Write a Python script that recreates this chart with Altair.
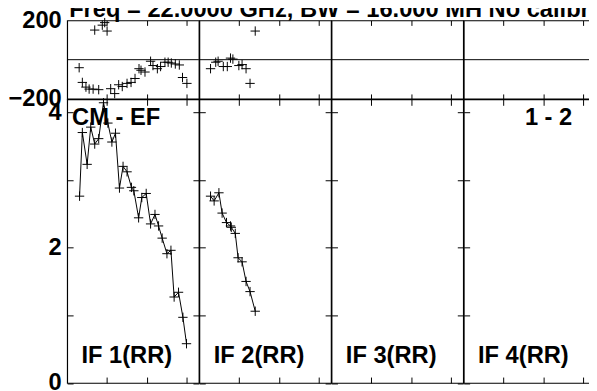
import altair as alt
import pandas as pd

FONT = "Liberation Sans"
FS = 24

title_text = "Freq = 22.0000 GHz, BW = 16.000 MH  No calibration"
baseline_label = "CM - EF"
pair_label = "1 - 2"
if_labels = ["IF 1(RR)", "IF 2(RR)", "IF 3(RR)", "IF 4(RR)"]

x_ticks = [1, 2, 3]
amp_ticks = [0, 1, 2, 3, 4]
amp_labels_shown = [0, 2, 4]
phase_ticks = [-200, 200]

# IF 1 amplitude
if1_amp_t = [0.31, 0.38, 0.50, 0.59, 0.69, 0.79, 0.91, 1.02, 1.12, 1.21, 1.31, 1.40, 1.50, 1.61,
             1.67, 1.79, 1.87, 1.98, 2.09, 2.20, 2.29, 2.38, 2.50, 2.60, 2.68, 2.79, 2.90, 2.99]
if1_amp = [2.76, 3.70, 3.23, 3.78, 3.53, 3.61, 4.14, 3.84, 3.56, 3.69, 2.88, 3.20, 3.12, 2.89,
           2.84, 2.44, 2.74, 2.80, 2.35, 2.49, 2.32, 2.14, 1.91, 1.96, 1.27, 1.34, 0.97, 0.58]
# IF 1 phase
if1_ph_t = [0.30, 0.38, 0.47, 0.55, 0.65, 0.69, 0.79, 0.88, 0.94, 1.00, 1.09, 1.19, 1.29, 1.38,
            1.50, 1.60, 1.70, 1.80, 1.85, 1.95, 2.09, 2.15, 2.26, 2.34, 2.45, 2.53, 2.61, 2.71,
            2.81, 2.89, 3.00]
if1_ph = [-41, -116, -140, -150, -150, 151, -153, 176, 189, 146, -148, -173, -128, -137,
          -121, -116, -96, -46, -54, -63, -8, -30, -46, -35, -13, -13, -17, -22,
          -27, -91, -121]
# IF 2 amplitude
if2_amp_t = [0.28, 0.37, 0.49, 0.57, 0.68, 0.78, 0.80, 0.90, 0.97, 1.07, 1.17, 1.27, 1.40]
if2_amp = [2.76, 2.69, 2.81, 2.51, 2.37, 2.32, 2.30, 2.21, 1.85, 1.79, 1.50, 1.35, 1.06]
# IF 2 phase
if2_ph_t = [0.28, 0.41, 0.47, 0.60, 0.70, 0.78, 0.84, 0.99, 1.07, 1.17, 1.27, 1.40]
if2_ph = [-46, -13, -8, -35, -35, 8, 3, -30, -25, -46, -121, 146]

X_DOM = [0, 3.3]
AMP_DOM = [0, 4.19]
PH_DOM = [-200, 200]
W = 133.5
H_PH = 79.5
H_AMP = 287.5
CROSS = "M-1,0L1,0M0,-1L0,1"
SVG_W = 589
SVG_H = 383
PAD_L = 60
PAD_T = 10


def df_of(t, v):
    return pd.DataFrame({"t": pd.Series(t, dtype=float), "v": pd.Series(v, dtype=float)})


amp_data = [df_of(if1_amp_t, if1_amp), df_of(if2_amp_t, if2_amp), df_of([], []), df_of([], [])]
ph_data = [df_of(if1_ph_t, if1_ph), df_of(if2_ph_t, if2_ph), df_of([], []), df_of([], [])]


def xaxis(orient, size):
    return alt.Axis(orient=orient, values=x_ticks, tickSize=size, offset=-size, domain=False,
                    labels=False, title=None, grid=False, tickColor="black", tickWidth=1)


def label_axis(orient, values, col, ticks, expr=None):
    kw = dict(orient=orient, values=values, domain=False, grid=False, title=None,
              labels=(col == 0 and orient == "left"), labelFont=FONT, labelFontSize=FS,
              labelFontWeight="bold", labelColor="black", labelPadding=6, labelFlush=False,
              labelOverlap=False, tickColor="black", tickWidth=1)
    if ticks:
        kw.update(ticks=True, tickSize=6, offset=-6)
    else:
        kw.update(ticks=False, offset=0)
    if expr:
        kw["labelExpr"] = expr
    return alt.Axis(**kw)


def text_layer(s, x, y, align="left", baseline="middle"):
    return alt.Chart(pd.DataFrame({"s": [s]})).mark_text(
        font=FONT, fontSize=FS, fontWeight="bold", align=align, baseline=baseline, color="black"
    ).encode(text="s:N", x=alt.value(x), y=alt.value(y))


def panel(kind, col):
    amp = kind == "amp"
    ydom = AMP_DOM if amp else PH_DOM
    h = H_AMP if amp else H_PH
    xs = alt.Scale(domain=X_DOM, nice=False, zero=False)
    ys = alt.Scale(domain=ydom, nice=False, zero=False)
    df = amp_data[col] if amp else ph_data[col]
    if amp:
        expr = "indexof(" + str(amp_labels_shown) + ", datum.value) >= 0 ? datum.label : ''"
        left = label_axis("left", amp_ticks, col, True, expr)
        right = label_axis("right", amp_ticks, col, True)
        xsize = 6
    else:
        left = label_axis("left", phase_ticks, col, False)
        right = None
        xsize = 5
    layers = []
    if not amp:
        layers.append(
            alt.Chart(pd.DataFrame({"v": [0]})).mark_rule(color="black", strokeWidth=1)
            .encode(y=alt.Y("v:Q", scale=ys, axis=None))
        )
    base = alt.Chart(df)
    if amp:
        layers.append(
            base.mark_line(color="black", strokeWidth=1).encode(
                x=alt.X("t:Q", scale=xs, axis=None), y=alt.Y("v:Q", scale=ys, axis=None))
        )
    layers.append(
        base.mark_point(shape=CROSS, filled=False, size=90, color="black", strokeWidth=1, opacity=1)
        .encode(x=alt.X("t:Q", scale=xs, axis=xaxis("bottom", xsize)),
                y=alt.Y("v:Q", scale=ys, axis=left))
    )
    aux = pd.DataFrame({"t": x_ticks, "v": [ydom[0]] * len(x_ticks)})
    layers.append(
        alt.Chart(aux).mark_point(opacity=0).encode(
            x=alt.X("t:Q", scale=xs, axis=xaxis("top", xsize)),
            y=alt.Y("v:Q", scale=ys, axis=right))
    )
    if amp:
        layers.append(text_layer(if_labels[col], 14.5, 260))
        if col == 0:
            layers.append(text_layer(baseline_label, 5, 19))
        if col == 3:
            layers.append(text_layer(pair_label, 62, 19))
    elif col == 0:
        layers.append(text_layer(title_text, 2, -4, baseline="alphabetic"))
    return alt.layer(*layers).resolve_axis(x="independent", y="independent").properties(width=W, height=h)


panels = [panel("phase", c) for c in range(4)] + [panel("amp", c) for c in range(4)]

chart = alt.concat(*panels, columns=4, spacing=0, bounds="flush").properties(
    autosize=alt.AutoSizeParams(type="none"),
    padding={"left": PAD_L, "top": PAD_T, "right": SVG_W - PAD_L, "bottom": SVG_H - PAD_T},
    background="white",
).configure_view(stroke="black", strokeWidth=1.2)

chart.save("out.html", embed_options={"renderer": "svg", "actions": False})
